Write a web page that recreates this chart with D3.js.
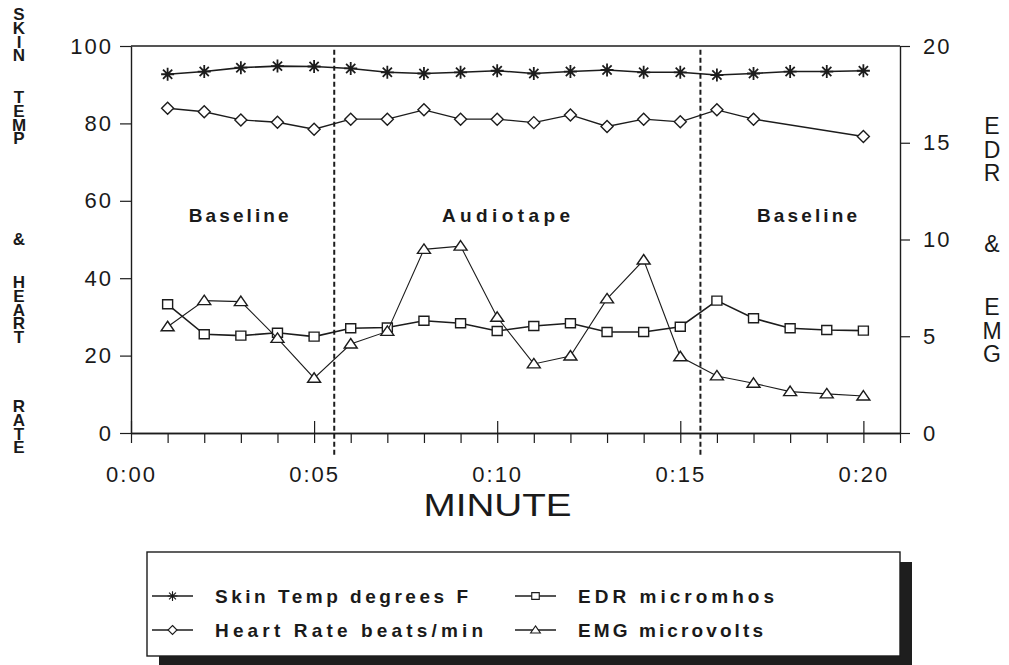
<!DOCTYPE html>
<html>
<head>
<meta charset="utf-8">
<script src="https://cdn.jsdelivr.net/npm/d3@7"></script>
<style>
  body { margin: 0; background: #fff; }
  text { font-family: "Liberation Sans", Arial, sans-serif; fill: #1a1a1a; }
  .vert { writing-mode: vertical-rl; text-orientation: upright; }
</style>
</head>
<body>
<div id="chart"></div>
<script>
// values
var minutes   = [1, 2, 3, 4, 5, 6, 7, 8, 9, 10, 11, 12, 13, 14, 15, 16, 17, 18, 19, 20];
var skinTemp  = [92.7, 93.4, 94.4, 94.8, 94.7, 94.2, 93.2, 92.9, 93.2, 93.6, 92.9, 93.4, 93.8, 93.2, 93.2, 92.5, 92.9, 93.4, 93.4, 93.6];
var heartRate = [83.9, 83.0, 80.9, 80.3, 78.5, 81.1, 81.1, 83.5, 81.1, 81.1, 80.2, 82.2, 79.2, 81.1, 80.4, 83.5, 81.1, null, null, 76.6];
var edr       = [6.65, 5.10, 5.03, 5.18, 4.98, 5.41, 5.45, 5.80, 5.67, 5.27, 5.53, 5.67, 5.22, 5.22, 5.49, 6.84, 5.93, 5.41, 5.32, 5.29];
var emg       = [5.49, 6.84, 6.79, 4.89, 2.83, 4.60, 5.25, 9.49, 9.66, 5.98, 3.57, 3.98, 6.93, 8.94, 3.94, 2.95, 2.57, 2.14, 2.02, 1.91];

var leftTicks  = [0, 20, 40, 60, 80, 100];
var rightTicks = [0, 5, 10, 15, 20];
var majorTicks = [0, 5, 10, 15, 20];
var majorLabels = ["0:00", "0:05", "0:10", "0:15", "0:20"];

var phaseBreaks = [5.55, 15.55];
var phaseNames = ["Baseline", "Audiotape", "Baseline"];
var phaseMid = [2.94, 10.24, 18.46];

var leftTitle = ["SKIN", "TEMP", "&", "HEART", "RATE"];
var leftTitleTop = [5, 88, 230, 273, 397];
var rightTitle = ["EDR", "&", "EMG"];
var rightTitleTop = [113, 231, 294];

var w = 1009, h = 665;
var svg = d3.select("#chart").append("svg").attr("width", w).attr("height", h);

var x = d3.scaleLinear().domain([0, 21]).range([131, 900]);
var yL = d3.scaleLinear().domain([0, 100]).range([433, 46]);
var yR = d3.scaleLinear().domain([0, 20]).range([433, 46]);

var ink = "#1c1c1c";

// top frame line
svg.append("line")
    .attr("x1", x(0)).attr("x2", x(21))
    .attr("y1", yL(100)).attr("y2", yL(100))
    .attr("stroke", ink).attr("stroke-width", 1.6);

// left axis
var gl = svg.append("g")
    .attr("transform", "translate(" + x(0) + ",0)")
    .call(d3.axisLeft(yL).tickValues(leftTicks).tickSize(11).tickSizeOuter(0).tickPadding(7));
// right axis
var gr = svg.append("g")
    .attr("transform", "translate(" + x(21) + ",0)")
    .call(d3.axisRight(yR).tickValues(rightTicks).tickSize(10).tickSizeOuter(0).tickPadding(13));

// bottom axis: minor ticks every minute, major every five
var minorVals = d3.range(0, 22).filter(function(d) { return majorTicks.indexOf(d) < 0; });
var gbm = svg.append("g")
    .attr("transform", "translate(0," + yL(0) + ")")
    .call(d3.axisBottom(x).tickValues(minorVals).tickFormat("").tickSize(10).tickSizeOuter(0));
var gb = svg.append("g")
    .attr("transform", "translate(0," + yL(0) + ")")
    .call(d3.axisBottom(x).tickValues(majorTicks)
        .tickFormat(function(d, i) { return majorLabels[i]; })
        .tickSize(10).tickSizeOuter(0).tickPadding(23));
gb.selectAll(".tick line").attr("y1", -12);

[gl, gr, gbm, gb].forEach(function(g) {
    g.selectAll("path").attr("stroke", ink).attr("stroke-width", 1.4);
    g.selectAll("line").attr("stroke", ink).attr("stroke-width", 1.2);
    g.selectAll("text")
        .attr("fill", ink)
        .style("font-family", '"Liberation Sans", Arial, sans-serif')
        .style("font-size", "22px")
        .style("letter-spacing", "2px");
});

// axis titles
svg.append("text")
    .attr("x", (x(0) + x(21)) / 2 - 18).attr("y", 516)
    .attr("text-anchor", "middle")
    .attr("textLength", 148).attr("lengthAdjust", "spacingAndGlyphs")
    .style("font-size", "32px")
    .text("MINUTE");

svg.append("g").selectAll("text")
    .data(leftTitle).enter().append("text")
    .attr("class", "vert")
    .attr("x", 19).attr("y", function(d, i) { return leftTitleTop[i]; })
    .style("font-size", "17px").style("font-weight", "bold")
    .style("letter-spacing", "-5.2px")
    .text(function(d) { return d; });

svg.append("g").selectAll("text")
    .data(rightTitle).enter().append("text")
    .attr("class", "vert")
    .attr("x", 992).attr("y", function(d, i) { return rightTitleTop[i]; })
    .style("font-size", "23px")
    .style("letter-spacing", "-2.4px")
    .text(function(d) { return d; });

// phase separators
svg.append("g").selectAll("line")
    .data(phaseBreaks).enter().append("line")
    .attr("x1", function(d) { return x(d); })
    .attr("x2", function(d) { return x(d); })
    .attr("y1", yL(99)).attr("y2", yL(0) + 22)
    .attr("stroke", ink).attr("stroke-width", 2)
    .attr("stroke-dasharray", "5,3");

svg.append("g").selectAll("text")
    .data(phaseNames).enter().append("text")
    .attr("x", function(d, i) { return x(phaseMid[i]); })
    .attr("y", 222)
    .attr("text-anchor", "middle")
    .attr("textLength", function(d) { return d === "Audiotape" ? 128 : 100; })
    .attr("lengthAdjust", "spacing")
    .style("font-size", "19px").style("font-weight", "bold")
    .text(function(d) { return d; });

// markers
var shapes = {
    star: "M0,-6.5V6.5M-6.5,0H6.5M-4.6,-4.6L4.6,4.6M-4.6,4.6L4.6,-4.6",
    diamond: "M0,-6L6,0L0,6L-6,0Z",
    square: "M-5,-4.5h10v9h-10Z",
    triangle: "M0,-5.5L6.5,4L-6.5,4Z"
};

var series = [
    {name: "Skin Temp degrees F", values: skinTemp, y: yL, shape: "star", lw: 1.6},
    {name: "Heart Rate beats/min", values: heartRate, y: yL, shape: "diamond", lw: 1.4},
    {name: "EDR micromhos", values: edr, y: yR, shape: "square", lw: 1.6},
    {name: "EMG microvolts", values: emg, y: yR, shape: "triangle", lw: 1.1}
];

series.forEach(function(s) {
    var pts = minutes.map(function(m, i) { return {m: m, v: s.values[i]}; })
        .filter(function(d) { return d.v !== null; });
    var line = d3.line()
        .x(function(d) { return x(d.m); })
        .y(function(d) { return s.y(d.v); });
    svg.append("path")
        .datum(pts)
        .attr("d", line)
        .attr("fill", "none")
        .attr("stroke", ink)
        .attr("stroke-width", s.lw);
    svg.append("g").selectAll("path")
        .data(pts).enter().append("path")
        .attr("transform", function(d) { return "translate(" + x(d.m) + "," + s.y(d.v) + ")"; })
        .attr("d", shapes[s.shape])
        .attr("fill", s.shape === "star" ? "none" : "#fff")
        .attr("stroke", ink)
        .attr("stroke-width", s.shape === "star" ? 1.8 : 1.4);
});

// legend
var lg = svg.append("g");
lg.append("rect")
    .attr("x", 159).attr("y", 562).attr("width", 753).attr("height", 110)
    .attr("fill", "#1e1e1e");
lg.append("rect")
    .attr("x", 147).attr("y", 552).attr("width", 753).attr("height", 104)
    .attr("fill", "#fff").attr("stroke", ink).attr("stroke-width", 1.4);

var legPos = [
    {x: 152, y: 596},
    {x: 152, y: 630},
    {x: 515, y: 596},
    {x: 515, y: 630}
];
var legItems = lg.selectAll("g.item")
    .data(series).enter().append("g")
    .attr("class", "item")
    .attr("transform", function(d, i) { return "translate(" + legPos[i].x + "," + legPos[i].y + ")"; });
legItems.append("line")
    .attr("x1", 0).attr("x2", 41)
    .attr("stroke", ink).attr("stroke-width", 1.3);
legItems.append("path")
    .attr("transform", "translate(20.5,0) scale(0.75)")
    .attr("d", function(d) { return shapes[d.shape]; })
    .attr("fill", function(d) { return d.shape === "star" ? "none" : "#fff"; })
    .attr("stroke", ink).attr("stroke-width", 1.5);
legItems.append("text")
    .attr("x", 63).attr("dy", "0.36em")
    .attr("textLength", function(d, i) { return [253, 268, 196, 185][i]; })
    .attr("lengthAdjust", "spacing")
    .style("font-size", "19px").style("font-weight", "bold")
    .text(function(d) { return d.name; });
</script>
</body>
</html>
